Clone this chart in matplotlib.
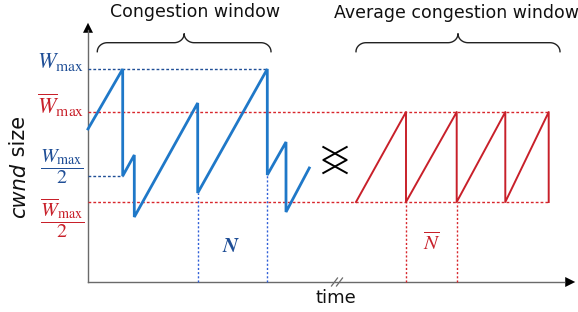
import matplotlib
matplotlib.use("Agg")
import matplotlib.pyplot as plt
from matplotlib.patches import FancyArrowPatch
import numpy as np

plt.rcParams['mathtext.fontset'] = 'stix'

# ---- data (time units, cwnd units) ----
blue_t = [0, 34.7, 34.7, 46.3, 46.3, 109.7, 109.7, 179.3, 179.3, 198, 198, 221.3]
blue_w = [153, 213, 106, 127, 65, 179, 89, 213, 107, 140, 70, 114]
red_t = [268, 318, 318, 368.7, 368.7, 417.3, 417.3, 460.7, 460.7]
red_w = [80, 170, 80, 170, 80, 170, 80, 170, 80]
W_max = 213
W_half = 106
Wbar_max = 170
Wbar_half = 80
N_marks = [109.7, 179.3]
Nbar_marks = [318, 368.7]

BLUE = '#1f78c8'
BLUE_DK = '#1f4e96'
BLUE_DOT = '#2f5fd8'
RED = '#c8202a'
RED_DOT = '#d8262c'
GRAY = '#6a6a6a'

fig = plt.figure(figsize=(5.78, 3.12), dpi=100)
ax = fig.add_axes([0, 0, 1, 1])
ax.set_xlim(-88, 490)
ax.set_ylim(-30, 282)
ax.axis('off')

# axes
ax.plot([0, 0], [0, 252], color=GRAY, lw=1.0)
ax.plot([0, 476], [0, 0], color=GRAY, lw=1.0)
ax.add_patch(FancyArrowPatch((0, 245), (0, 262), arrowstyle='-|>', mutation_scale=18, color='black', lw=0))
ax.add_patch(FancyArrowPatch((470, 0), (490, 0), arrowstyle='-|>', mutation_scale=18, color='black', lw=0))
# break marks
for dx in (-2.5, 2.5):
    ax.plot([249 + dx - 3, 249 + dx + 3], [-4, 4], color=GRAY, lw=0.9)

# reference lines
ax.plot([0, blue_t[7]], [W_max, W_max], color=BLUE_DK, lw=1.0, ls=(0, (2, 1.5)))
ax.plot([0, blue_t[1]], [W_half, W_half], color=BLUE_DK, lw=1.0, ls=(0, (2, 1.5)))
ax.plot([0, red_t[-1]], [Wbar_max, Wbar_max], color=RED_DOT, lw=1.0, ls=(0, (2, 1.5)))
ax.plot([0, red_t[-1]], [Wbar_half, Wbar_half], color=RED_DOT, lw=1.0, ls=(0, (2, 1.5)))
for t, w in zip(N_marks, [blue_w[6], blue_w[8]]):
    ax.plot([t, t], [0, w], color=BLUE_DOT, lw=1.0, ls=(0, (1.5, 1.5)))
for t in Nbar_marks:
    ax.plot([t, t], [0, Wbar_half], color=RED_DOT, lw=1.0, ls=(0, (1.5, 1.5)))

# series
ax.plot(blue_t, blue_w, color=BLUE, lw=2.0, solid_joinstyle='miter')
ax.plot(red_t, red_w, color=RED, lw=1.4)

# crossing symbol
ax.plot([235.3, 258.7, 235.3], [135, 122, 109], color='black', lw=1.4)
ax.plot([258.7, 235.3, 258.7], [135, 122, 109], color='black', lw=1.4)

# braces
def brace(x0, x1, ytop):
    xm = (x0 + x1) / 2
    r = 10
    ry = 9
    path_x, path_y = [], []
    th = np.linspace(np.pi, np.pi / 2, 20)
    path_x += list(x0 + r + r * np.cos(th)); path_y += list(ytop - ry + ry * np.sin(th))
    th = np.linspace(-np.pi / 2, 0, 20)
    path_x += list(xm - r + r * np.cos(th)); path_y += list(ytop + ry + ry * np.sin(th))
    th = np.linspace(np.pi, 3 * np.pi / 2, 20)
    path_x += list(xm + r + r * np.cos(th)); path_y += list(ytop + ry + ry * np.sin(th))
    th = np.linspace(np.pi / 2, 0, 20)
    path_x += list(x1 - r + r * np.cos(th)); path_y += list(ytop - ry + ry * np.sin(th))
    ax.plot(path_x, path_y, color='#222222', lw=1.0)

brace(9.3, 183, 239.3)
brace(268, 472, 239.3)

# texts
ax.text(107, 270, 'Congestion window', ha='center', va='center', fontsize=12.5, color='#111111')
ax.text(368, 269, 'Average congestion window', ha='center', va='center', fontsize=12.5, color='#111111')
ax.text(248, -16, 'time', ha='center', va='center', fontsize=13, color='#111111')

# y label: italic "cwnd" + upright " size", baseline-aligned
t1 = ax.text(-63, 0, 'cwnd', ha='left', va='baseline', rotation=90, rotation_mode='anchor',
             fontsize=15, color='#111111', fontstyle='italic')
t2 = ax.text(-63, 0, ' size', ha='left', va='baseline', rotation=90, rotation_mode='anchor',
             fontsize=15, color='#111111')
fig.canvas.draw()
r = fig.canvas.get_renderer()
h1 = t1.get_window_extent(r).height
h2 = t2.get_window_extent(r).height
y0 = 115 - (h1 + h2) / 2
t1.set_position((-63, y0))
t2.set_position((-63, y0 + h1))

ax.text(143, 36, r'$\boldsymbol{N}$', ha='center', va='center', fontsize=15, color=BLUE_DK)
ax.text(344, 39, r'$\overline{N}$', ha='center', va='center', fontsize=15, color=RED)

ax.text(-4, 220, r'$W_{\mathrm{max}}$', ha='right', va='center', fontsize=16, color=BLUE_DK)
ax.text(-4, 177, r'$\overline{W}_{\mathrm{max}}$', ha='right', va='center', fontsize=16, color=RED)
ax.text(-26, 115, r'$\dfrac{W_{\mathrm{max}}}{2}$', ha='center', va='center', fontsize=14.5, color=BLUE_DK)
ax.text(-26, 64, r'$\dfrac{\overline{W}_{\mathrm{max}}}{2}$', ha='center', va='center', fontsize=14.5, color=RED)

fig.savefig('out.png', dpi=100)
